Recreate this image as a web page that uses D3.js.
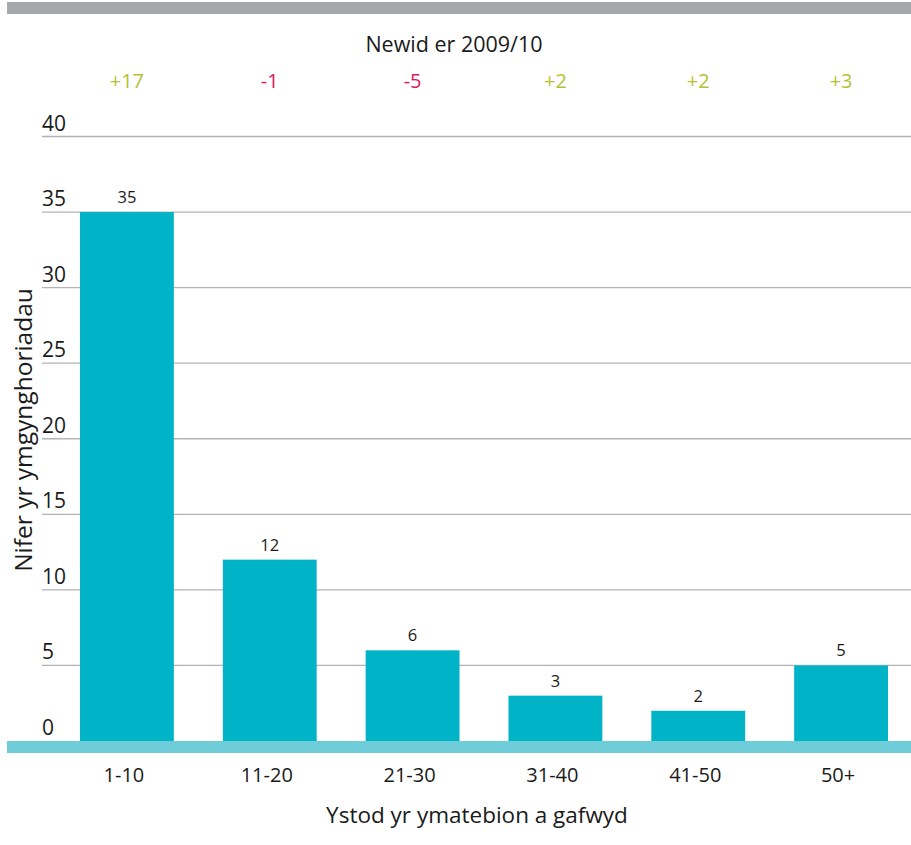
<!DOCTYPE html>
<html><head><meta charset="utf-8">
<script src="https://cdn.jsdelivr.net/npm/d3@7"></script>
<style>body{margin:0;background:#fff}svg{display:block}text{font-family:"Open Sans",sans-serif;fill:#1a1a1a}</style>
</head><body><div id="c"></div>
<script>
const categories = ["1-10","11-20","21-30","31-40","41-50","50+"];
const values = [35,12,6,3,2,5];
const changes = ["+17","-1","-5","+2","+2","+3"];
const yTicks = [0,5,10,15,20,25,30,35,40];

const W=911,H=845;
const svg=d3.select("#c").append("svg").attr("width",W).attr("height",H);
const x=d3.scaleBand().domain(categories).range([55.5,912.5]).paddingInner(0.343).paddingOuter(0.1715);
const y=d3.scaleLinear().domain([0,40]).range([741,136.5]);

// top grey bar
svg.append("rect").attr("x",7).attr("y",2).attr("width",W-7).attr("height",12).attr("fill","#a6a7aa");

// title
svg.append("text").attr("x",454).attr("y",52).attr("text-anchor","middle").attr("font-size",21.5).text("Newid er 2009/10");
svg.selectAll(".chg").data(categories).enter().append("text")
  .attr("x",d=>x(d)+x.bandwidth()/2).attr("y",88).attr("text-anchor","middle").attr("font-size",20)
  .style("fill",(d,i)=>changes[i].startsWith("-")?"#e0185c":"#b3c234").text((d,i)=>changes[i]);

// gridlines
svg.selectAll(".grid").data(yTicks.filter(t=>t>0)).enter().append("line")
  .attr("x1",42).attr("x2",W).attr("y1",d=>y(d)).attr("y2",d=>y(d)).attr("stroke","#b3b3b3").attr("stroke-width",1.3);
svg.selectAll(".yt").data(yTicks).enter().append("text")
  .attr("x",42).attr("y",d=>y(d)-6).attr("font-size",21).text(d=>d);

// bars
svg.selectAll(".bar").data(categories).enter().append("rect")
  .attr("x",d=>x(d)).attr("width",x.bandwidth())
  .attr("y",(d,i)=>y(values[i])).attr("height",(d,i)=>y(0)-y(values[i])).attr("fill","#00b3c6");
svg.selectAll(".vl").data(categories).enter().append("text")
  .attr("x",d=>x(d)+x.bandwidth()/2).attr("y",(d,i)=>y(values[i])-9).attr("text-anchor","middle").attr("font-size",16.5).text((d,i)=>values[i]);

// bottom band
svg.append("rect").attr("x",7).attr("y",741).attr("width",W-7).attr("height",12).attr("fill","#6fcdd9");

// x labels
svg.selectAll(".xl").data(categories).enter().append("text")
  .attr("x",d=>x(d)+x.bandwidth()/2-3).attr("y",782).attr("text-anchor","middle").attr("font-size",20).text(d=>d);
svg.append("text").attr("x",477).attr("y",823).attr("text-anchor","middle").attr("font-size",22.5).text("Ystod yr ymatebion a gafwyd");
svg.append("text").attr("transform","translate(32,430) rotate(-90)").attr("text-anchor","middle").attr("font-size",24.5).text("Nifer yr ymgynghoriadau");
</script></body></html>
